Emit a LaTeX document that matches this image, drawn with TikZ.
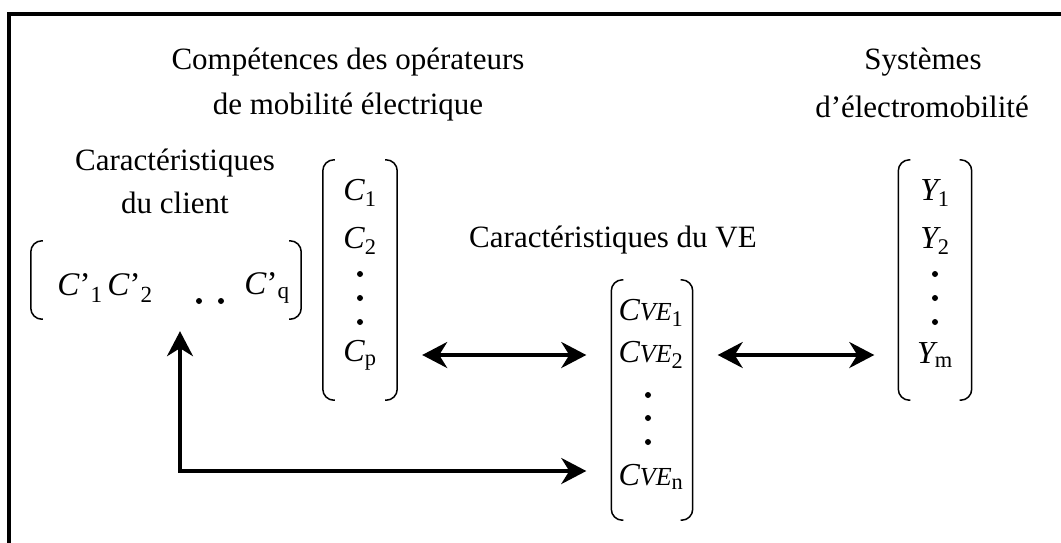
\documentclass[tikz,border=0pt]{standalone}
\usepackage{fontspec}
\setmainfont{Liberation Serif}
\usetikzlibrary{arrows.meta}
\newcommand\ent[2]{\textit{#1}\textsubscript{#2}}
\newcommand\yent[1]{\textit{Y}\kern-3pt\textsubscript{#1}}
\newcommand\cve[1]{\textit{C\fontsize{26}{30}\selectfont VE}\textsubscript{#1}}
\begin{document}
\begin{tikzpicture}[x=1pt,y=-1pt,
  lbl/.style={font=\fontsize{31}{36}\selectfont, inner sep=0pt},
  entry/.style={font=\fontsize{32}{36}\selectfont, inner sep=0pt},
  rowentry/.style={font=\fontsize{33}{38}\selectfont, inner sep=0pt},
  dotn/.style={circle, fill=black, inner sep=0pt, minimum size=6pt},
  mbox/.style={draw=none, inner sep=0pt},
  brk/.style={line width=1.5pt, rounded corners=11pt},
  conn/.style={line width=3.6pt, {Stealth[length=25pt,width=26pt,inset=8pt]}-{Stealth[length=25pt,width=26pt,inset=8pt]}}
]
\useasboundingbox (0,0) rectangle (1061,542);
\begin{scope}
\clip (0,0) rectangle (1061,542);
\draw[line width=4pt] (9,14) rectangle (1080,580);
\end{scope}

% labels
\node[lbl] (t1a) at (348,62) {Compétences des opérateurs};
\node[lbl] (t1b) at (348,107) {de mobilité électrique};
\node[lbl] (t2a) at (923,62) {Systèmes};
\node[lbl] (t2b) at (922,107) {d'électromobilité};
\node[lbl] (t3a) at (175,163) {Caractéristiques};
\node[lbl] (t3b) at (175,203) {du client};
\node[lbl] (t4) at (613,240) {Caractéristiques du VE};

% matrix boxes
\node[mbox, minimum width=270pt, minimum height=78pt] (R) at (166,280) {};
\node[mbox, minimum width=74pt, minimum height=240pt] (P) at (360,280) {};
\node[mbox, minimum width=81pt, minimum height=240pt] (V) at (652,400) {};
\node[mbox, minimum width=73pt, minimum height=240pt] (Y) at (935,280) {};

\foreach \b in {R,P,V,Y}{
  \draw[brk] ([xshift=12pt]\b.north west) -- (\b.north west) -- (\b.south west) -- ([xshift=12pt]\b.south west);
  \draw[brk] ([xshift=-12pt]\b.north east) -- (\b.north east) -- (\b.south east) -- ([xshift=-12pt]\b.south east);
}

% row entries
\node[rowentry] (r1) at (80,288) {\textit{C}'\textsubscript{1}};
\node[rowentry] (r2) at (130,288) {\textit{C}'\textsubscript{2}};
\node[dotn] (rd1) at (199,301) {};
\node[dotn] (rd2) at (221,301) {};
\node[rowentry] (rq) at (267,288) {\textit{C}'\textsubscript{q}};

% P entries
\node[entry] (p1) at (360,193) {\ent{C}{1}};
\node[entry] (p2) at (360,241) {\ent{C}{2}};
\node[dotn] (pd1) at (360,274) {};
\node[dotn] (pd2) at (360,298) {};
\node[dotn] (pd3) at (360,322) {};
\node[entry] (pp) at (360,355) {\ent{C}{p}};

% VE entries
\node[entry] (v1) at (651,313) {\cve{1}};
\node[entry] (v2) at (651,355) {\cve{2}};
\node[dotn] (vd1) at (648,395) {};
\node[dotn] (vd2) at (648,418) {};
\node[dotn] (vd3) at (648,442) {};
\node[entry] (vn) at (651,477) {\cve{n}};

% Y entries
\node[entry] (y1) at (935,193) {\yent{1}};
\node[entry] (y2) at (935,241) {\yent{2}};
\node[dotn] (yd1) at (935,274) {};
\node[dotn] (yd2) at (935,298) {};
\node[dotn] (yd3) at (935,322) {};
\node[entry] (ym) at (935,355) {\yent{m}};

% connectors
\coordinate (k) at (180,471);
\draw[conn] ([xshift=25pt]P.east |- pp) -- ([xshift=-25pt]V.west |- pp);
\draw[conn] ([xshift=25pt]V.east |- pp) -- ([xshift=-24pt]Y.west |- pp);
\draw[conn, line join=miter] ([yshift=-12pt]R.south -| k) -- (k) -- ([xshift=-25pt]V.west |- k);
\end{tikzpicture}
\end{document}
